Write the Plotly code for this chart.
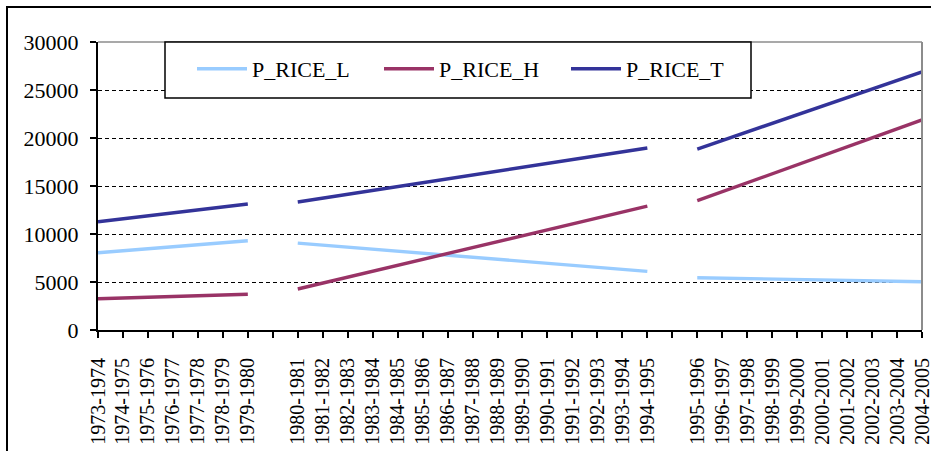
import plotly.graph_objects as go

# Seasons on the category axis; blank slots separate the three periods
seasons_1 = ["1973-1974", "1974-1975", "1975-1976", "1976-1977", "1977-1978",
             "1978-1979", "1979-1980"]
seasons_2 = ["1980-1981", "1981-1982", "1982-1983", "1983-1984", "1984-1985",
             "1985-1986", "1986-1987", "1987-1988", "1988-1989", "1989-1990",
             "1990-1991", "1991-1992", "1992-1993", "1993-1994", "1994-1995"]
seasons_3 = ["1995-1996", "1996-1997", "1997-1998", "1998-1999", "1999-2000",
             "2000-2001", "2001-2002", "2002-2003", "2003-2004", "2004-2005"]
gap_a, gap_b = " ", "  "

p_rice_l_1 = [8050, 8260, 8470, 8680, 8890, 9100, 9300]
p_rice_l_2 = [9050, 8840, 8630, 8420, 8210, 8000, 7790, 7580, 7370, 7160,
              6950, 6740, 6530, 6320, 6110]
p_rice_l_3 = [5450, 5400, 5360, 5310, 5270, 5220, 5170, 5120, 5080, 5030]

p_rice_h_1 = [3260, 3340, 3410, 3490, 3570, 3640, 3720]
p_rice_h_2 = [4270, 4890, 5500, 6120, 6730, 7350, 7970, 8580, 9200, 9810,
              10430, 11050, 11660, 12280, 12900]
p_rice_h_3 = [13470, 14400, 15340, 16270, 17210, 18140, 19070, 20010, 20940, 21880]

p_rice_t_1 = [11280, 11590, 11900, 12200, 12510, 12820, 13130]
p_rice_t_2 = [13330, 13730, 14140, 14540, 14940, 15340, 15740, 16150, 16550, 16950,
              17350, 17760, 18160, 18560, 18960]
p_rice_t_3 = [18850, 19740, 20630, 21530, 22420, 23310, 24200, 25100, 25990, 26880]

y_ticks = [0, 5000, 10000, 15000, 20000, 25000, 30000]

categories = seasons_1 + [gap_a] + seasons_2 + [gap_b] + seasons_3


def join(a, b, c):
    return a + [None] + b + [None] + c


series = [
    ("P_RICE_L", join(p_rice_l_1, p_rice_l_2, p_rice_l_3), "#99CCFF"),
    ("P_RICE_H", join(p_rice_h_1, p_rice_h_2, p_rice_h_3), "#993366"),
    ("P_RICE_T", join(p_rice_t_1, p_rice_t_2, p_rice_t_3), "#333399"),
]

W, H = 931, 451
L, R, T, B = 98, 922, 42, 330


def px(x):
    return (x - L) / (R - L)


def py(y):
    return (B - y) / (B - T)


fig = go.Figure()
for name, vals, color in series:
    fig.add_trace(go.Scatter(
        x=categories, y=vals, name=name, mode="lines",
        line=dict(color=color, width=3.4), connectgaps=False,
    ))

font = "'Times New Roman', 'Liberation Serif', 'DejaVu Serif', serif"

fig.update_layout(
    width=W, height=H,
    margin=dict(l=L, r=W - R, t=T, b=H - B, autoexpand=False),
    paper_bgcolor="white", plot_bgcolor="white",
    font=dict(family=font, color="black"),
    showlegend=True,
    legend=dict(
        orientation="h", x=px(192), y=py(69), xanchor="left", yanchor="middle",
        bgcolor="rgba(0,0,0,0)", borderwidth=0, entrywidth=122,
        itemwidth=50, font=dict(size=22, family=font),
    ),
    xaxis=dict(
        type="category", categoryorder="array", categoryarray=categories,
        range=[0, len(categories) - 1], automargin=False,
        showgrid=False, showline=True, linecolor="black", linewidth=2,
        ticks="outside", ticklen=6, tickwidth=1.5, tickcolor="black",
        tickangle=-90, tickfont=dict(size=20, family=font),
        ticklabelstandoff=12, zeroline=False,
    ),
    yaxis=dict(
        range=[0, 30000], tickvals=y_ticks, tickformat="d", automargin=False,
        showgrid=True, gridcolor="black", gridwidth=1, griddash="4px,3px",
        showline=True, linecolor="black", linewidth=2,
        ticks="outside", ticklen=6, tickwidth=2, tickcolor="black",
        tickfont=dict(size=22, family=font), ticklabelstandoff=7,
        zeroline=False,
    ),
    shapes=[
        # plot area frame (top and right)
        dict(type="line", xref="paper", yref="paper", x0=0, x1=1, y0=1, y1=1,
             line=dict(color="#8c8c8c", width=1.5), layer="above"),
        dict(type="line", xref="paper", yref="paper", x0=1, x1=1, y0=0, y1=1,
             line=dict(color="#8c8c8c", width=2), layer="above"),
        # legend box
        dict(type="rect", xref="paper", yref="paper",
             x0=px(165), x1=px(751), y0=py(98), y1=py(42),
             line=dict(color="black", width=1.5), fillcolor="white", layer="above"),
        # outer chart border
        dict(type="rect", xref="paper", yref="paper",
             x0=px(7), x1=px(940), y0=py(460), y1=py(7),
             line=dict(color="black", width=2), layer="above"),
    ],
)

fig.write_html("out.html")
